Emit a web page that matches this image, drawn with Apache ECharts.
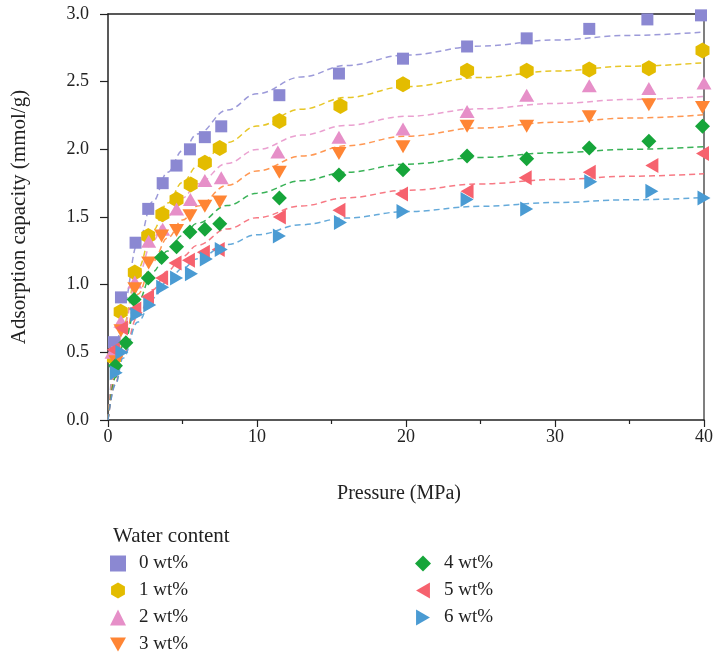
<!DOCTYPE html>
<html>
<head>
<meta charset="utf-8">
<script src="https://cdn.jsdelivr.net/npm/echarts@6/dist/echarts.min.js"></script>
<style>html,body{margin:0;padding:0;background:#fff}#c{width:716px;height:657px}</style>
</head>
<body>
<div id="c"></div>
<script>
// ---- data ----
const seriesNames = ['0 wt%', '1 wt%', '2 wt%', '3 wt%', '4 wt%', '5 wt%', '6 wt%'];
const xTicks = [0, 10, 20, 30, 40];
const yTicks = [0.0, 0.5, 1.0, 1.5, 2.0, 2.5, 3.0];

// measured points: [pressure MPa, adsorption mmol/g]
const wt0 = [[0.4,0.575],[0.87,0.906],[1.85,1.31],[2.7,1.56],[3.67,1.75],[4.6,1.88],[5.5,2.00],[6.5,2.09],[7.6,2.17],[11.5,2.40],[15.5,2.56],[19.8,2.67],[24.1,2.76],[28.1,2.82],[32.3,2.89],[36.2,2.96],[39.8,2.99]];
const wt1 = [[0.4,0.46],[0.85,0.80],[1.8,1.09],[2.7,1.36],[3.65,1.52],[4.6,1.63],[5.55,1.74],[6.5,1.90],[7.5,2.01],[11.5,2.21],[15.6,2.32],[19.8,2.48],[24.1,2.58],[28.1,2.58],[32.3,2.59],[36.3,2.60],[39.9,2.73]];
const wt2 = [[0.27,0.50],[0.87,0.73],[1.8,1.02],[2.73,1.32],[3.67,1.41],[4.6,1.56],[5.53,1.63],[6.5,1.77],[7.6,1.79],[11.4,1.98],[15.5,2.09],[19.8,2.15],[24.1,2.28],[28.1,2.40],[32.3,2.47],[36.3,2.45],[40.0,2.49]];
const wt3 = [[0.53,0.43],[0.87,0.66],[1.8,0.97],[2.73,1.16],[3.6,1.36],[4.6,1.40],[5.5,1.51],[6.5,1.58],[7.5,1.61],[11.5,1.83],[15.5,1.97],[19.8,2.02],[24.1,2.17],[28.1,2.17],[32.3,2.24],[36.3,2.33],[39.9,2.31]];
const wt4 = [[0.5,0.40],[1.2,0.57],[1.75,0.89],[2.7,1.05],[3.6,1.20],[4.6,1.28],[5.5,1.39],[6.5,1.41],[7.5,1.45],[11.5,1.64],[15.5,1.81],[19.8,1.85],[24.1,1.95],[28.1,1.93],[32.3,2.01],[36.3,2.06],[39.9,2.17]];
const wt5 = [[0.35,0.52],[0.9,0.68],[1.8,0.82],[2.65,0.91],[3.6,1.05],[4.5,1.16],[5.4,1.18],[6.4,1.24],[7.4,1.26],[11.5,1.50],[15.5,1.55],[19.7,1.67],[24.1,1.69],[28.0,1.79],[32.3,1.83],[36.5,1.88],[39.9,1.97]];
const wt6 = [[0.55,0.35],[0.93,0.50],[1.93,0.78],[2.8,0.85],[3.67,0.98],[4.6,1.05],[5.6,1.08],[6.6,1.19],[7.6,1.26],[11.5,1.36],[15.6,1.46],[19.8,1.54],[24.1,1.63],[28.1,1.56],[32.4,1.76],[36.5,1.69],[40.0,1.64]];

// fitted (dashed) curves at these pressures
const fitP = [0, 0.5, 1, 2, 3, 4, 5, 6, 8, 10, 13, 16, 20, 25, 30, 35, 40];
const fit0 = [0, 0.480, 0.829, 1.305, 1.613, 1.830, 1.990, 2.113, 2.290, 2.411, 2.535, 2.620, 2.697, 2.763, 2.808, 2.842, 2.867];
const fit1 = [0, 0.395, 0.694, 1.116, 1.399, 1.603, 1.756, 1.876, 2.050, 2.172, 2.297, 2.383, 2.463, 2.531, 2.579, 2.614, 2.640];
const fit2 = [0, 0.389, 0.675, 1.068, 1.325, 1.506, 1.641, 1.745, 1.896, 1.999, 2.105, 2.177, 2.244, 2.300, 2.339, 2.368, 2.390];
const fit3 = [0, 0.325, 0.574, 0.929, 1.170, 1.345, 1.478, 1.581, 1.734, 1.840, 1.950, 2.026, 2.097, 2.158, 2.200, 2.231, 2.255];
const fit4 = [0, 0.314, 0.549, 0.876, 1.094, 1.248, 1.364, 1.454, 1.585, 1.675, 1.768, 1.831, 1.890, 1.940, 1.975, 2.000, 2.020];
const fit5 = [0, 0.271, 0.476, 0.766, 0.962, 1.102, 1.208, 1.291, 1.412, 1.495, 1.582, 1.642, 1.697, 1.744, 1.777, 1.801, 1.820];
const fit6 = [0, 0.262, 0.456, 0.724, 0.901, 1.026, 1.120, 1.192, 1.297, 1.369, 1.443, 1.493, 1.540, 1.579, 1.607, 1.627, 1.643];

// ---- styling ----
const points = [wt0, wt1, wt2, wt3, wt4, wt5, wt6];
const fits = [fit0, fit1, fit2, fit3, fit4, fit5, fit6];
const colors = ['#8B88D2', '#E3BC00', '#E68FC8', '#FF8534', '#16A53A', '#F6626E', '#4A9BD3'];
const hexagon = 'path://M433,0 L866,250 L866,750 L433,1000 L0,750 L0,250 Z';
const triDown = 'path://M0,0 L1000,0 L500,866 Z';
const triLeft = 'path://M866,0 L866,1000 L0,500 Z';
const triRight = 'path://M0,0 L866,500 L0,1000 Z';
const symbols = ['rect', hexagon, 'triangle', triDown, 'diamond', triLeft, triRight];
const sizes = [[12,12], [14,16], [15,13], [15,13], [15,15], [13,15], [13,15]];
const FONT = '"Liberation Serif", "DejaVu Serif", serif';

const series = [];
fits.forEach((f, i) => {
  series.push({
    type: 'line', name: 'fit' + i, xAxisIndex: 0, yAxisIndex: 0,
    data: fitP.map((p, k) => [p, f[k]]),
    smooth: 0.4, smoothMonotone: 'x', showSymbol: false, symbol: 'none',
    lineStyle: { color: colors[i], width: 1.5, type: [6, 4], opacity: 0.85 },
    silent: true, z: 2
  });
});
points.forEach((d, i) => {
  series.push({
    type: 'scatter', name: seriesNames[i], xAxisIndex: 0, yAxisIndex: 0,
    data: d, symbol: symbols[i], symbolSize: sizes[i],
    itemStyle: { color: colors[i], opacity: 1 }, clip: false, z: 3
  });
});

const legendText = { fontFamily: FONT, fontSize: 19, color: '#222', padding: [0, 0, 0, 8] };
const legendItems = (from, to) => seriesNames.slice(from, to).map((n, k) => ({ name: n, icon: symbols[from + k] }));
const option = {
  animation: false,
  backgroundColor: '#fff',
  title: { text: 'Water content', left: 108, top: 521, textStyle: { fontFamily: FONT, fontSize: 21, fontWeight: 'normal', color: '#222' } },
  legend: [
    { data: legendItems(0, 4), orient: 'vertical', left: 105, top: 549, height: 120, itemWidth: 16, itemHeight: 16, itemGap: 8, textStyle: legendText },
    { data: legendItems(4, 7), orient: 'vertical', left: 410, top: 549, height: 120, itemWidth: 16, itemHeight: 16, itemGap: 8, textStyle: legendText }
  ],
  grid: { left: 108, right: 8, top: 14, bottom: 237, containLabel: false },
  xAxis: [
    {
      type: 'value', min: 0, max: 40, interval: 10, position: 'bottom',
      name: 'Pressure (MPa)', nameLocation: 'middle', nameGap: 64,
      nameTextStyle: { fontFamily: FONT, fontSize: 20, color: '#222', padding: [0, 14, 0, 0] },
      axisLine: { show: true, onZero: false, lineStyle: { color: '#222', width: 1.5 } },
      axisTick: { show: true, inside: false, length: 7, lineStyle: { color: '#222', width: 1.2 } },
      minorTick: { show: true, splitNumber: 2, length: 4, lineStyle: { color: '#222', width: 1.2 } },
      axisLabel: { fontFamily: FONT, fontSize: 18, color: '#222', margin: 8, customValues: xTicks },
      splitLine: { show: false }
    },
    {
      type: 'value', min: 0, max: 40, position: 'top',
      axisLine: { show: true, onZero: false, lineStyle: { color: '#222', width: 1.5 } },
      axisTick: { show: false }, axisLabel: { show: false }, splitLine: { show: false }
    }
  ],
  yAxis: [
    {
      type: 'value', min: 0, max: 3, interval: 0.5,
      name: 'Adsorption capacity (mmol/g)', nameLocation: 'middle', nameGap: 78,
      nameTextStyle: { fontFamily: FONT, fontSize: 21, color: '#222' },
      axisLine: { show: true, onZero: false, lineStyle: { color: '#222', width: 1.5 } },
      axisTick: { show: true, inside: false, length: 8, lineStyle: { color: '#222', width: 1.2 } },
      axisLabel: { fontFamily: FONT, fontSize: 18, color: '#222', margin: 19, customValues: yTicks, formatter: v => v.toFixed(1) },
      splitLine: { show: false }
    },
    {
      type: 'value', min: 0, max: 3, position: 'right',
      axisLine: { show: true, onZero: false, lineStyle: { color: '#555', width: 1.5 } },
      axisTick: { show: false }, axisLabel: { show: false }, splitLine: { show: false }
    }
  ],
  series: series
};

const chart = echarts.init(document.getElementById('c'), null, { renderer: 'canvas' });
chart.setOption(option);
</script>
</body>
</html>
